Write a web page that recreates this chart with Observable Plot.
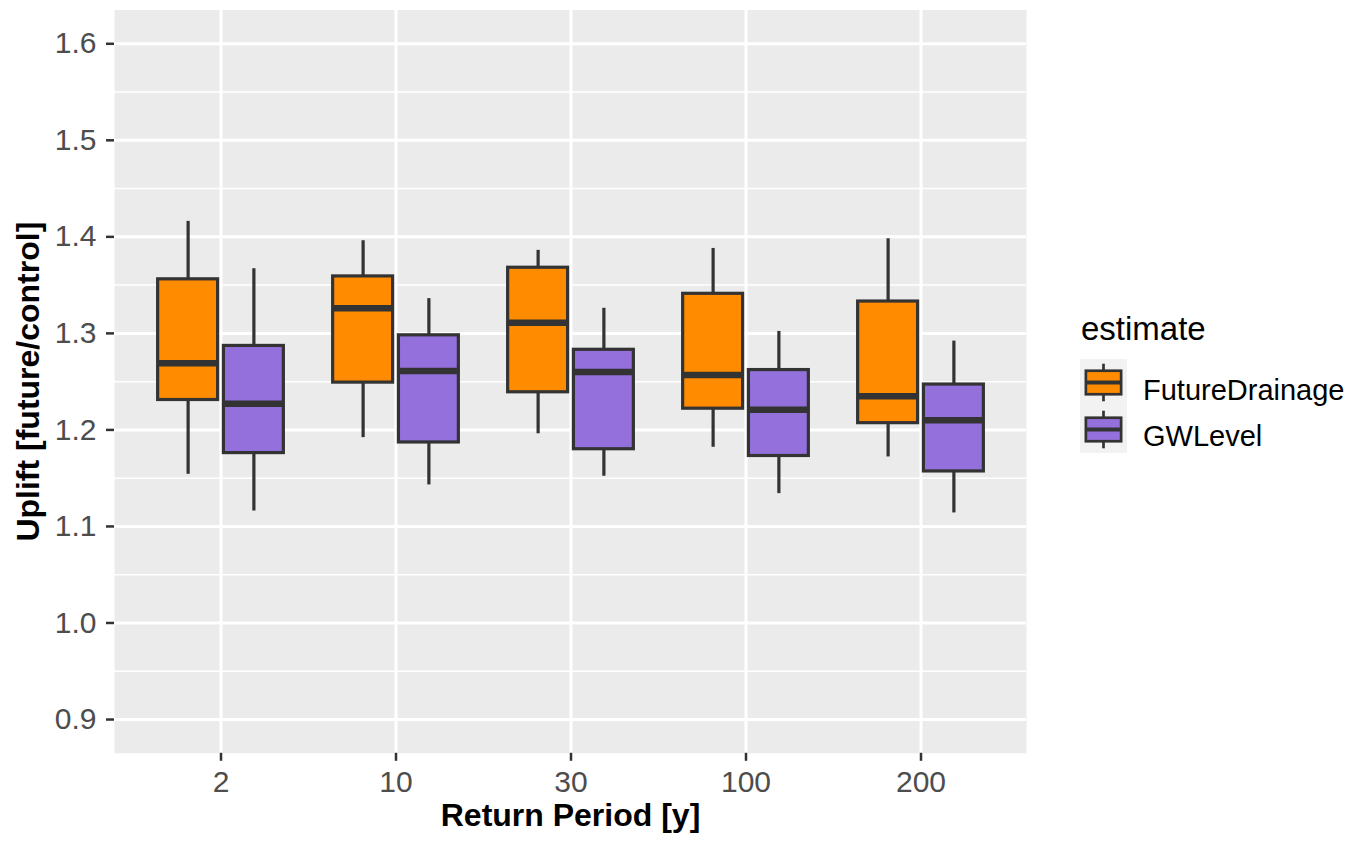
<!DOCTYPE html>
<html>
<head>
<meta charset="utf-8">
<script src="https://cdn.jsdelivr.net/npm/d3@7"></script>
<script src="https://cdn.jsdelivr.net/npm/@observablehq/plot@0.6"></script>
<style>
  html, body { margin: 0; padding: 0; background: #ffffff; }
  #chart { position: relative; width: 1354px; height: 843px; font-family: "Liberation Sans", Arial, Helvetica, sans-serif; }
  #legend { position: absolute; left: 1070px; top: 300px; }
</style>
</head>
<body>
<div id="chart"></div>
<script>
// Return periods (x categories) and the two estimate series
const periods = ["2", "10", "30", "100", "200"];
const estimates = ["FutureDrainage", "GWLevel"];
const colors = ["#FF8C00", "#9370DB"];

// Box summaries per return period: lower whisker, Q1, median, Q3, upper whisker
const fdMin = [1.154, 1.192, 1.196, 1.182, 1.172];
const fdQ1  = [1.231, 1.249, 1.239, 1.222, 1.207];
const fdMed = [1.269, 1.326, 1.311, 1.257, 1.235];
const fdQ3  = [1.356, 1.359, 1.368, 1.341, 1.333];
const fdMax = [1.416, 1.396, 1.386, 1.388, 1.398];

const gwMin = [1.116, 1.143, 1.152, 1.134, 1.114];
const gwQ1  = [1.176, 1.187, 1.180, 1.173, 1.157];
const gwMed = [1.227, 1.261, 1.260, 1.221, 1.210];
const gwQ3  = [1.287, 1.298, 1.283, 1.262, 1.247];
const gwMax = [1.367, 1.336, 1.326, 1.302, 1.292];

const yMajor = [0.9, 1.0, 1.1, 1.2, 1.3, 1.4, 1.5, 1.6];
const yMinor = [0.95, 1.05, 1.15, 1.25, 1.35, 1.45, 1.55];

const series = [
  {min: fdMin, q1: fdQ1, med: fdMed, q3: fdQ3, max: fdMax},
  {min: gwMin, q1: gwQ1, med: gwMed, q3: gwQ3, max: gwMax}
];
const rows = [];
series.forEach((s, si) => periods.forEach((p, i) => rows.push({
  period: p, estimate: estimates[si],
  min: s.min[i], q1: s.q1[i], med: s.med[i], q3: s.q3[i], max: s.max[i]
})));

// Layout
const W = 1060, H = 843;
const mL = 114, mR = 34, mT = 9.5, mB = 90.2;
const outerPad = 0.1;
const step = (W - mL - mR) / (periods.length + 2 * outerPad);
const dodge = 0.1875 * step;   // box centre offset from category centre
const half = 0.172 * step;     // half box width
const ink = "#333333";

function boxMarks(si) {
  const data = rows.filter(d => d.estimate === estimates[si]);
  const off = (si === 0 ? -1 : 1) * dodge;
  const insetLeft = step / 2 + off - half;
  const insetRight = step / 2 - off - half;
  return [
    Plot.ruleX(data, {x: "period", y1: "min", y2: "max", dx: off, stroke: ink, strokeWidth: 3.2}),
    Plot.barY(data, {x: "period", y1: "q1", y2: "q3", fill: colors[si], stroke: ink, strokeWidth: 3.2, insetLeft, insetRight}),
    Plot.tickY(data, {x: "period", y: "med", stroke: ink, strokeWidth: 6.5, insetLeft, insetRight})
  ];
}

const plot = Plot.plot({
  width: W,
  height: H,
  marginLeft: mL,
  marginRight: mR,
  marginTop: mT,
  marginBottom: mB,
  style: {fontFamily: '"Liberation Sans", Arial, Helvetica, sans-serif', fontSize: "30px", color: "#4D4D4D", background: "#ffffff", overflow: "visible"},
  x: {type: "band", domain: periods, paddingInner: 0, paddingOuter: outerPad, axis: null},
  y: {domain: [0.865, 1.635], axis: null},
  marks: [
    Plot.frame({fill: "#EBEBEB", stroke: "none"}),
    Plot.gridY(yMinor, {stroke: "#ffffff", strokeOpacity: 1, strokeWidth: 1.5}),
    Plot.gridY(yMajor, {stroke: "#ffffff", strokeOpacity: 1, strokeWidth: 3}),
    Plot.gridX(periods, {stroke: "#ffffff", strokeOpacity: 1, strokeWidth: 3}),
    ...boxMarks(0),
    ...boxMarks(1),
    Plot.axisY(yMajor, {tickSize: 8, tickPadding: 10, stroke: ink, strokeWidth: 2.5, fill: "#4D4D4D", fontSize: 30, tickFormat: d3.format(".1f"), label: null}),
    Plot.axisX(periods, {tickSize: 8, tickPadding: 9, stroke: ink, strokeWidth: 2.5, fill: "#4D4D4D", fontSize: 30, label: null}),
    Plot.text(["Return Period [y]"], {text: d => d, frameAnchor: "bottom", lineAnchor: "bottom", dy: 73, fontSize: 32, fontWeight: "bold", fill: "#000000"}),
    Plot.text(["Uplift [future/control]"], {text: d => d, frameAnchor: "left", textAnchor: "middle", lineAnchor: "middle", dx: -86, rotate: -90, fontSize: 32, fontWeight: "bold", fill: "#000000"})
  ]
});

const chart = document.getElementById("chart");
chart.appendChild(plot);

// Legend for the estimate fill
const key = 47;
const legend = d3.select(chart).append("svg")
  .attr("id", "legend")
  .attr("width", 284)
  .attr("height", 170)
  .style("font-family", '"Liberation Sans", Arial, Helvetica, sans-serif');

legend.append("text")
  .attr("x", 11).attr("y", 40)
  .attr("font-size", 33).attr("fill", "#000000")
  .text("estimate");

estimates.forEach((name, i) => {
  const g = legend.append("g").attr("transform", `translate(10, ${59 + i * key})`);
  g.append("rect").attr("width", key).attr("height", key).attr("fill", "#F2F2F2");
  g.append("line").attr("x1", key / 2).attr("x2", key / 2).attr("y1", key * 0.1).attr("y2", key * 0.9)
    .attr("stroke", ink).attr("stroke-width", 2.7);
  g.append("rect").attr("x", key * 0.125).attr("y", key * 0.25).attr("width", key * 0.75).attr("height", key * 0.5)
    .attr("fill", colors[i]).attr("stroke", ink).attr("stroke-width", 2.7);
  g.append("line").attr("x1", key * 0.125).attr("x2", key * 0.875).attr("y1", key / 2).attr("y2", key / 2)
    .attr("stroke", ink).attr("stroke-width", 4);
  legend.append("text")
    .attr("x", 73).attr("y", 100 + i * 45.7)
    .attr("font-size", 29).attr("fill", "#000000")
    .text(name);
});
</script>
</body>
</html>
